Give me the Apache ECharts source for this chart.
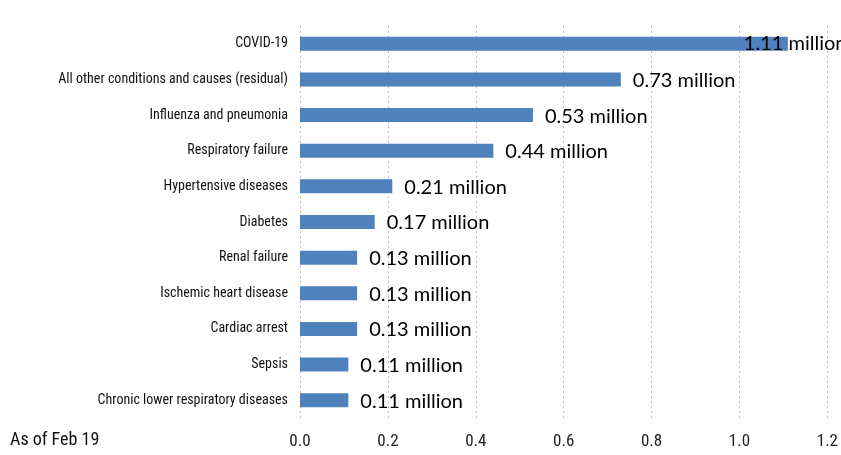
<!DOCTYPE html>
<html>
<head>
<meta charset="utf-8">
<script src="https://cdn.jsdelivr.net/npm/echarts@6/dist/echarts.min.js"></script>
<style>
html,body{margin:0;padding:0;background:#fff;}
#chart{width:841px;height:455px;}
</style>
</head>
<body>
<div id="chart"></div>
<script>
var categories = [
  "COVID-19",
  "All other conditions and causes (residual)",
  "Influenza and pneumonia",
  "Respiratory failure",
  "Hypertensive diseases",
  "Diabetes",
  "Renal failure",
  "Ischemic heart disease",
  "Cardiac arrest",
  "Sepsis",
  "Chronic lower respiratory diseases"
];
var values = [1.11, 0.73, 0.53, 0.44, 0.21, 0.17, 0.13, 0.13, 0.13, 0.11, 0.11];
var labelTexts = ["1.11 million", "0.73 million", "0.53 million", "0.44 million", "0.21 million", "0.17 million", "0.13 million", "0.13 million", "0.13 million", "0.11 million", "0.11 million"];
var xTicks = ["0.0", "0.2", "0.4", "0.6", "0.8", "1.0", "1.2"];
var footnote = "As of Feb 19";

var condensed = "'Liberation Sans Narrow', 'Arial Narrow', 'Roboto Condensed', 'Liberation Sans', sans-serif";

var chart = echarts.init(document.getElementById('chart'));
var seriesData = values.map(function (v, i) {
  var item = { value: v };
  if (i === 0) {
    item.label = { offset: [-56, 0] };
  }
  return item;
});

chart.setOption({
  animation: false,
  grid: { left: 300, right: 12, top: 26, height: 392, containLabel: false },
  xAxis: {
    type: 'value',
    min: 0,
    max: 1.2,
    interval: 0.2,
    axisLine: { show: false },
    axisTick: { show: false },
    axisLabel: {
      margin: 15,
      fontFamily: condensed,
      fontSize: 17,
      color: '#222',
      formatter: function (v) { return xTicks[Math.round(v / 0.2)]; }
    },
    splitLine: { show: true, lineStyle: { color: '#bfbfbf', type: [2, 3], width: 1 } }
  },
  yAxis: {
    type: 'category',
    inverse: true,
    data: categories,
    axisLine: { show: false },
    axisTick: { show: false },
    axisLabel: {
      margin: 12,
      fontFamily: condensed,
      fontSize: 14,
      color: '#111'
    }
  },
  series: [{
    type: 'bar',
    data: seriesData,
    barWidth: 14,
    itemStyle: { color: '#4F81BD' },
    label: {
      show: true,
      position: 'right',
      distance: 12,
      fontFamily: "Lato, 'Open Sans', sans-serif",
      fontSize: 20,
      color: '#000',
      offset: [0, 1],
      formatter: function (p) { return labelTexts[p.dataIndex]; }
    }
  }],
  graphic: [{
    type: 'text',
    left: 10,
    top: 431,
    style: {
      text: footnote,
      fontFamily: condensed,
      fontSize: 18,
      fill: '#111'
    }
  }]
});
</script>
</body>
</html>
